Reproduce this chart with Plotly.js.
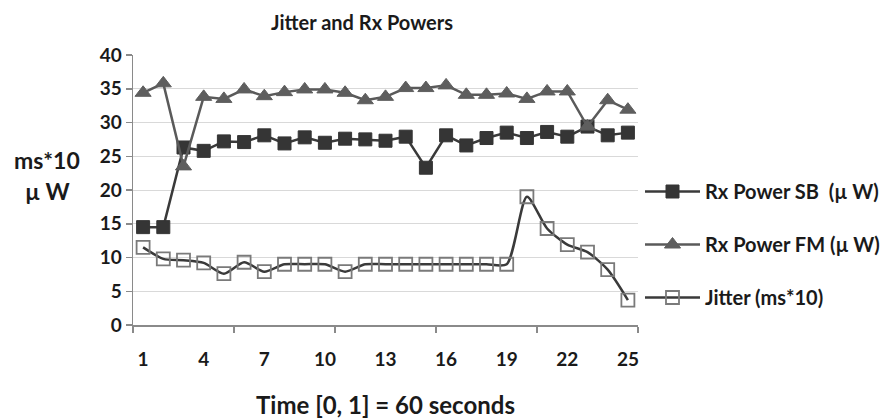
<!DOCTYPE html>
<html>
<head>
<meta charset="utf-8">
<script src="https://cdn.plot.ly/plotly-3.0.1.min.js"></script>
<style>html,body{margin:0;padding:0;background:#fff;}#chart{width:888px;height:419px;}</style>
</head>
<body>
<div id="chart"></div>
<script>
var timeSlots = [1,2,3,4,5,6,7,8,9,10,11,12,13,14,15,16,17,18,19,20,21,22,23,24,25];
var tickLabels = ["1","4","7","10","13","16","19","22","25"];
var tickPositions = [1,4,7,10,13,16,19,22,25];
var rxPowerSB = [14.5,14.5,26.3,25.8,27.2,27.1,28.1,26.9,27.8,27.0,27.6,27.5,27.3,27.9,23.3,28.1,26.6,27.7,28.5,27.7,28.6,27.9,29.4,28.1,28.5];
var rxPowerFM = [34.4,35.8,23.5,33.8,33.5,34.9,33.9,34.5,34.9,34.9,34.4,33.3,33.8,35.1,35.1,35.5,34.1,34.1,34.3,33.5,34.6,34.6,29.4,33.3,31.9];
var jitter = [11.5,9.8,9.6,9.2,7.6,9.3,7.9,9.0,9.0,9.0,7.9,9.0,9.0,9.0,9.0,9.0,9.0,9.0,9.0,19.0,14.3,11.9,10.8,8.2,3.7];
var seriesNames = ["Rx Power SB  (\u00b5 W)", "Rx Power FM (\u00b5 W)", "Jitter (ms*10)"];

var FONT = "Lato, 'Open Sans', sans-serif";
var TXT = "#1a1a1a";

var traces = [
  {x: timeSlots, y: rxPowerSB, name: seriesNames[0], type: "scatter", mode: "lines+markers",
   legendgroup: "a",
   line: {color: "#3a3a3a", width: 2.5},
   marker: {symbol: "square", size: 13, color: "#353535", line: {color: "#353535", width: 1}}},
  {x: timeSlots, y: rxPowerFM, name: seriesNames[1], type: "scatter", mode: "lines+markers",
   legendgroup: "b",
   line: {color: "#5a5a5a", width: 2.5},
   marker: {symbol: "triangle-up", size: 14, color: "#5e5e5e", line: {color: "#5e5e5e", width: 1}}},
  {x: timeSlots, y: jitter, name: seriesNames[2], type: "scatter", mode: "lines+markers",
   legendgroup: "c",
   line: {color: "#3a3a3a", width: 2.5, shape: "spline", smoothing: 0.7},
   marker: {symbol: "square-open", size: 13, color: "#7a7a7a", line: {color: "#7a7a7a", width: 1.8}}}
];

var layout = {
  width: 888, height: 419,
  margin: {l: 133, r: 250, t: 55, b: 94},
  paper_bgcolor: "#ffffff", plot_bgcolor: "#ffffff",
  font: {family: FONT, color: TXT},
  title: {text: "<b>Jitter and Rx Powers</b>", font: {family: FONT, size: 20, color: TXT},
          x: 0.4535, xanchor: "center", xref: "paper", y: 0.945, yanchor: "middle"},
  showlegend: true,
  legend: {xref: "container", yref: "container", x: 640 / 888, xanchor: "left", y: 1 - 172 / 419, yanchor: "top",
           font: {family: FONT, size: 20, color: TXT, weight: "bold"},
           itemwidth: 55,
           tracegroupgap: 24, traceorder: "grouped", bgcolor: "rgba(0,0,0,0)"},
  xaxis: {
    range: [0.5, 25.5], tickmode: "array", tickvals: tickPositions, ticktext: tickLabels,
    ticks: "", showgrid: false, zeroline: false,
    showline: true, linecolor: "#8a8a8a", linewidth: 1.5,
    tickfont: {family: FONT, size: 19, color: TXT, weight: "bold"},
    ticklabelstandoff: 17,
    minor: {tick0: 0.5, dtick: 5, ticks: "outside", ticklen: 6, tickcolor: "#8a8a8a", tickwidth: 1.5, showgrid: false},
    title: {text: "<b>Time [0, 1] = 60 seconds</b>", font: {family: FONT, size: 24, color: TXT}, standoff: 30}
  },
  yaxis: {
    range: [0, 40], dtick: 5, tick0: 0,
    ticks: "outside", ticklen: 6, tickcolor: "#8a8a8a", tickwidth: 1.5,
    showgrid: true, gridcolor: "#d9d9d9", gridwidth: 1, zeroline: false,
    showline: true, linecolor: "#8a8a8a", linewidth: 1.5,
    tickfont: {family: FONT, size: 19, color: TXT, weight: "bold"}
  },
  annotations: [
    {text: "<b>ms*10</b>", xref: "paper", yref: "paper", x: -0.17, y: (325 - 160) / 270, xanchor: "center", yanchor: "middle",
     showarrow: false, font: {family: FONT, size: 23, color: TXT}},
    {text: "<b>\u00b5 W</b>", xref: "paper", yref: "paper", x: -0.17, y: (325 - 191) / 270, xanchor: "center", yanchor: "middle",
     showarrow: false, font: {family: FONT, size: 23, color: TXT}}
  ]
};

Plotly.newPlot("chart", traces, layout, {displayModeBar: false, staticPlot: true});
</script>
</body>
</html>
